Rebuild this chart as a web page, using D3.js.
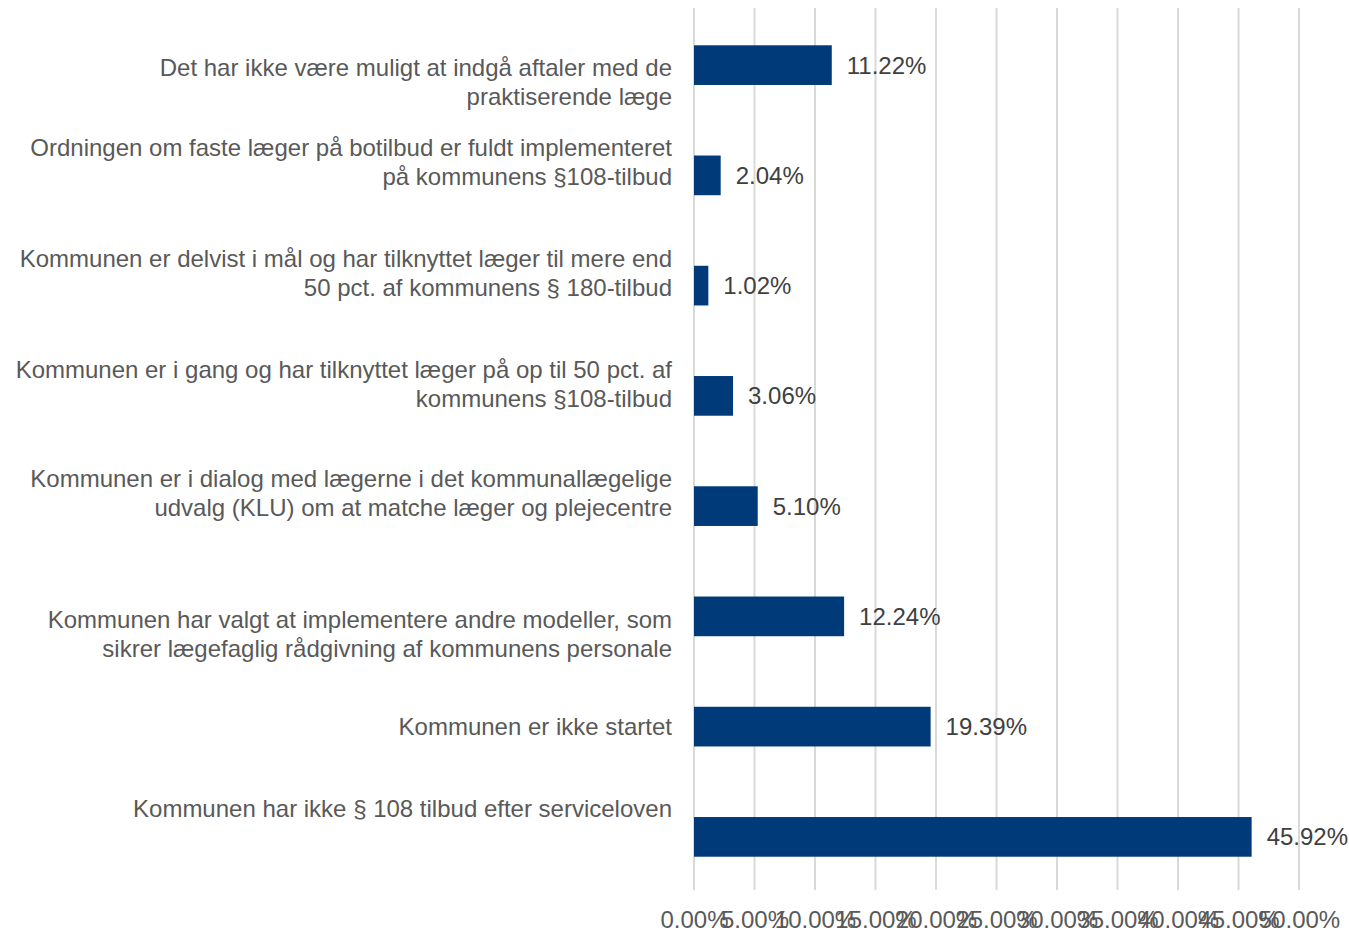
<!DOCTYPE html>
<html>
<head>
<meta charset="utf-8">
<script src="https://cdn.jsdelivr.net/npm/d3@7"></script>
<style>
  html, body { margin: 0; padding: 0; background: #ffffff; }
  svg { display: block; font-family: "Liberation Sans", Arial, sans-serif; }
</style>
</head>
<body>
<div id="chart"></div>
<script>
const categories = [
  ['Det har ikke være muligt at indgå aftaler med de', 'praktiserende læge'],
  ['Ordningen om faste læger på botilbud er fuldt implementeret', 'på kommunens §108-tilbud'],
  ['Kommunen er delvist i mål og har tilknyttet læger til mere end', '50 pct. af kommunens § 180-tilbud'],
  ['Kommunen er i gang og har tilknyttet læger på op til 50 pct. af', 'kommunens §108-tilbud'],
  ['Kommunen er i dialog med lægerne i det kommunallægelige', 'udvalg (KLU) om at matche læger og plejecentre'],
  ['Kommunen har valgt at implementere andre modeller, som', 'sikrer lægefaglig rådgivning af kommunens personale'],
  ['Kommunen er ikke startet'],
  ['Kommunen har ikke § 108 tilbud efter serviceloven'],
];
const values = [11.22, 2.04, 1.02, 3.06, 5.10, 12.24, 19.39, 45.92];
const tickValues = [0, 5, 10, 15, 20, 25, 30, 35, 40, 45, 50];

// vertical nudge of each category label relative to its bar (as laid out in the source)
const labelShift = [17, -13, -13, -12, -13, 18, 0, -28];

const COLORS = {
  bar: '#003a78',
  grid: '#d9d9d9',
  label: '#595959',
  value: '#404040',
  tick: '#595959',
};

(() => {
  const width = 1349;
  const height = 932;
  const fontSize = 24;
  const lineHeight = 29;
  const plot = { left: 694, right: 1299, top: 10, bottom: 892 };

  const svg = d3.select('#chart').append('svg')
    .attr('width', width)
    .attr('height', height);

  const x = d3.scaleLinear().domain([0, 50]).range([plot.left, plot.right]);
  const ids = d3.range(categories.length);
  const y = d3.scaleBand().domain(ids).range([plot.top, plot.bottom])
    .paddingInner(0.64).paddingOuter(0.32);

  // gridlines
  svg.append('g')
    .selectAll('line')
    .data(tickValues)
    .enter()
    .append('line')
    .attr('x1', (d) => x(d))
    .attr('x2', (d) => x(d))
    .attr('y1', 8)
    .attr('y2', 890)
    .attr('stroke', COLORS.grid)
    .attr('stroke-width', 2);

  // bars
  svg.append('g')
    .selectAll('rect')
    .data(values)
    .enter()
    .append('rect')
    .attr('x', x(0))
    .attr('y', (d, i) => y(i))
    .attr('width', (d) => x(d) - x(0) + 2)
    .attr('height', y.bandwidth())
    .attr('fill', COLORS.bar);

  // value labels
  svg.append('g')
    .selectAll('text')
    .data(values)
    .enter()
    .append('text')
    .attr('x', (d) => x(d) + 17)
    .attr('y', (d, i) => y(i) + y.bandwidth() / 2)
    .attr('dy', '0.35em')
    .attr('font-size', fontSize)
    .attr('fill', COLORS.value)
    .text((d) => `${d.toFixed(2)}%`);

  // category labels
  const labels = svg.append('g')
    .selectAll('text')
    .data(categories)
    .enter()
    .append('text')
    .attr('text-anchor', 'end')
    .attr('font-size', fontSize)
    .attr('fill', COLORS.label);

  labels.each(function (lines, i) {
    const cy = y(i) + y.bandwidth() / 2 + labelShift[i];
    const top = cy - ((lines.length - 1) * lineHeight) / 2;
    d3.select(this).selectAll('tspan')
      .data(lines)
      .enter()
      .append('tspan')
      .attr('x', 672)
      .attr('y', (d, j) => top + j * lineHeight)
      .attr('dy', '0.35em')
      .text((d) => d);
  });

  // x axis tick labels
  const axis = svg.append('g')
    .attr('transform', 'translate(0,911)')
    .call(d3.axisBottom(x).tickValues(tickValues).tickSize(0).tickPadding(0)
      .tickFormat((d) => `${d.toFixed(2)}%`));
  axis.select('.domain').remove();
  axis.selectAll('text')
    .attr('font-size', fontSize)
    .attr('font-family', '"Liberation Sans", Arial, sans-serif')
    .attr('fill', COLORS.tick);
})();
</script>
</body>
</html>
